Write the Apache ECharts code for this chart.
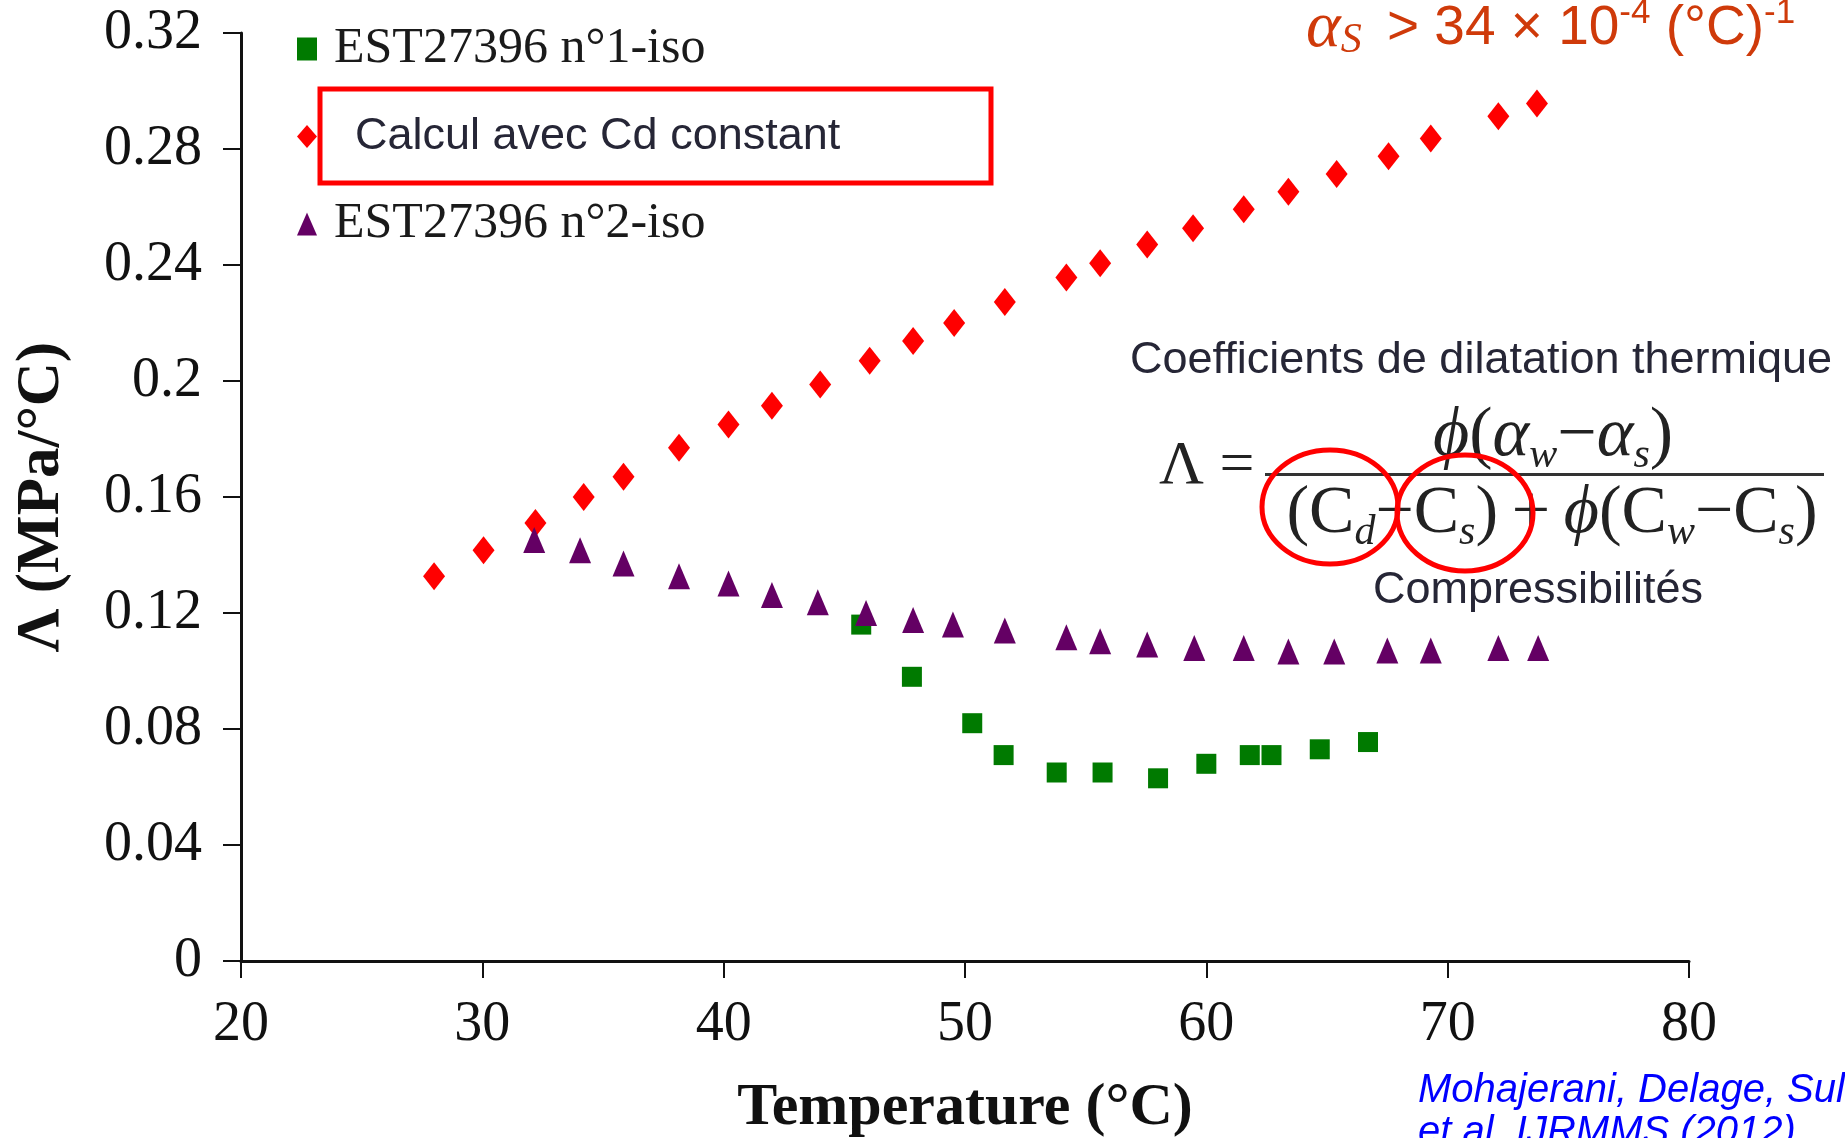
<!DOCTYPE html>
<html lang="fr">
<head>
<meta charset="UTF-8">
<title>Lambda - temperature</title>
<script src="https://cdn.jsdelivr.net/npm/echarts@6/dist/echarts.min.js"></script>
<style>html,body{margin:0;background:#fff;overflow:hidden}</style>
</head>
<body>
<div id="chart" style="width:1845px;height:1138px"></div>
<script>
// temperature (°C) et Lambda (MPa/°C)
var iso1T = [45.7, 47.8, 50.3, 51.6, 53.8, 55.7, 58.0, 60.0, 61.8, 62.7, 64.7, 66.7];
var iso1L = [0.116, 0.098, 0.082, 0.071, 0.065, 0.065, 0.063, 0.068, 0.071, 0.071, 0.073, 0.0755];

var calcT = [28.0, 30.05, 32.2, 34.2, 35.85, 38.15, 40.2, 42.0, 44.0, 46.05, 47.85, 49.55,
             51.65, 54.2, 55.6, 57.55, 59.45, 61.55, 63.4, 65.4, 67.55, 69.3, 72.1, 73.7];
var calcL = [0.1327, 0.1416, 0.151, 0.160, 0.167, 0.177, 0.185, 0.1915, 0.1988, 0.207, 0.2138, 0.220,
             0.2272, 0.2357, 0.2406, 0.2471, 0.2527, 0.2592, 0.2653, 0.2714, 0.2775, 0.2836, 0.2913, 0.2957];

var iso2T = [32.15, 34.05, 35.85, 38.15, 40.2, 42.0, 43.9, 45.9, 47.85, 49.5, 51.65,
             54.2, 55.6, 57.55, 59.5, 61.55, 63.4, 65.3, 67.5, 69.3, 72.1, 73.75];
var iso2L = [0.1452, 0.1416, 0.1371, 0.1327, 0.1302, 0.1262, 0.1237, 0.120, 0.1176, 0.116, 0.114,
             0.1116, 0.1103, 0.1091, 0.1079, 0.1079, 0.1067, 0.1067, 0.1071, 0.1071, 0.1079, 0.1079];

var seriesNames = ['EST27396 n°1-iso', 'Calcul avec Cd constant', 'EST27396 n°2-iso'];
var xTicks = {min: 20, max: 80, interval: 10};
var yTicks = {min: 0, max: 0.32, interval: 0.04};

function pairs(xs, ys) {
    return xs.map(function (x, i) { return [x, ys[i]]; });
}

var serif = '"Liberation Serif", "Times New Roman", serif';
var sans = '"Liberation Sans", Arial, sans-serif';
var orange = '#cf3a0a';
var ink = '#262636';

var chart = echarts.init(document.getElementById('chart'));

chart.setOption({
    backgroundColor: '#fff',
    animation: false,
    grid: {left: 241, right: 156, top: 33, bottom: 177, outerBoundsMode: 'none'},
    legend: {
        orient: 'vertical',
        left: 292,
        top: 19,
        itemWidth: 20,
        itemHeight: 23,
        itemGap: 40,
        data: seriesNames,
        formatter: function (name) {
            return name === seriesNames[1] ? '{b|' + name + '}' : '{a|' + name + '}';
        },
        textStyle: {
            rich: {
                a: {fontFamily: serif, fontSize: 50, color: '#1a1a1a', lineHeight: 46, padding: [0, 0, 0, 12]},
                b: {fontFamily: sans, fontSize: 45, color: ink, lineHeight: 46, padding: [0, 0, 0, 33]}
            }
        }
    },
    xAxis: {
        type: 'value',
        min: xTicks.min, max: xTicks.max, interval: xTicks.interval,
        name: 'Temperature (°C)',
        nameLocation: 'middle',
        nameGap: 117,
        nameTextStyle: {fontFamily: serif, fontSize: 60, fontWeight: 'bold', color: '#111'},
        axisLine: {onZero: false, lineStyle: {color: '#111', width: 3}},
        axisTick: {length: 17, lineStyle: {color: '#111', width: 2}},
        axisLabel: {margin: 36, fontFamily: serif, fontSize: 56, color: '#111'},
        splitLine: {show: false}
    },
    yAxis: {
        type: 'value',
        min: yTicks.min, max: yTicks.max, interval: yTicks.interval,
        name: 'Λ (MPa/°C)',
        nameLocation: 'middle',
        nameGap: 168,
        nameTextStyle: {fontFamily: serif, fontSize: 61, fontWeight: 'bold', color: '#111'},
        axisLine: {onZero: false, lineStyle: {color: '#111', width: 3}},
        axisTick: {length: 18, lineStyle: {color: '#111', width: 2}},
        axisLabel: {margin: 39, fontFamily: serif, fontSize: 56, color: '#111'},
        splitLine: {show: false}
    },
    series: [
        {
            name: seriesNames[0], type: 'scatter', symbol: 'rect', symbolSize: 20,
            itemStyle: {color: '#007a00', opacity: 1},
            data: pairs(iso1T, iso1L)
        },
        {
            name: seriesNames[1], type: 'scatter', symbol: 'diamond', symbolSize: [22, 28],
            itemStyle: {color: '#ff0000', opacity: 1},
            data: pairs(calcT, calcL)
        },
        {
            name: seriesNames[2], type: 'scatter', symbol: 'triangle', symbolSize: [22, 26],
            itemStyle: {color: '#640064', opacity: 1},
            data: pairs(iso2T, iso2L)
        }
    ],
    graphic: [
        // cadre rouge autour de la legende du calcul
        {type: 'rect', shape: {x: 320, y: 89, width: 671, height: 94},
         style: {fill: null, stroke: '#ff0000', lineWidth: 5}},
        // alpha_s
        {type: 'text', left: 1306, top: -4, style: {
            text: '{a|α}{s|S}{t| > 34 × 10}{p|-4}{t| (°C)}{p|-1}',
            rich: {
                a: {fontFamily: serif, fontStyle: 'italic', fontSize: 66, fill: orange, lineHeight: 66},
                s: {fontFamily: serif, fontStyle: 'italic', fontSize: 42, fill: orange, lineHeight: 38, verticalAlign: 'bottom', padding: [0, 10, 0, 0]},
                t: {fontFamily: sans, fontSize: 55, fill: orange, lineHeight: 66},
                p: {fontFamily: sans, fontSize: 35, fill: orange, lineHeight: 32, verticalAlign: 'top'}
            }
        }},
        {type: 'text', left: 1130, top: 338, style: {
            text: 'Coefficients de dilatation thermique', fontFamily: sans, fontSize: 45, fill: ink
        }},
        // formule
        {type: 'text', left: 1159, top: 436, style: {
            text: 'Λ =', fontFamily: serif, fontSize: 62, fill: '#222'
        }},
        {type: 'rect', shape: {x: 1265, y: 473, width: 559, height: 3}, style: {fill: '#333'}},
        {type: 'text', x: 1553, y: 437, style: {
            text: '{i|ϕ}{m|(}{i|α}{s|w}{m|−}{i|α}{s|s}{m|)}', align: 'center', verticalAlign: 'middle',
            rich: {
                m: {fontFamily: serif, fontSize: 70, fill: '#222', lineHeight: 80},
                i: {fontFamily: serif, fontStyle: 'italic', fontSize: 70, fill: '#222', lineHeight: 80},
                s: {fontFamily: serif, fontStyle: 'italic', fontSize: 42, fill: '#222', lineHeight: 36, verticalAlign: 'bottom'}
            }
        }},
        {type: 'text', x: 1552, y: 514, style: {
            text: '{m|(C}{s|d}{m|−C}{s|s}{m|)\u2009+\u2009}{i|ϕ}{m|(C}{s|w}{m|−C}{s|s}{m|)}', align: 'center', verticalAlign: 'middle',
            rich: {
                m: {fontFamily: serif, fontSize: 68, fill: '#222', lineHeight: 80},
                i: {fontFamily: serif, fontStyle: 'italic', fontSize: 68, fill: '#222', lineHeight: 80},
                s: {fontFamily: serif, fontStyle: 'italic', fontSize: 42, fill: '#222', lineHeight: 36, verticalAlign: 'bottom'}
            }
        }},
        // cercles rouges
        {type: 'ellipse', shape: {cx: 1330, cy: 507, rx: 68, ry: 57},
         style: {fill: null, stroke: '#ff0000', lineWidth: 5}},
        {type: 'ellipse', shape: {cx: 1465, cy: 513, rx: 68, ry: 58},
         style: {fill: null, stroke: '#ff0000', lineWidth: 5}},
        {type: 'text', x: 1538, y: 591, style: {
            text: 'Compressibilités', align: 'center', verticalAlign: 'middle',
            fontFamily: sans, fontSize: 45, fill: ink
        }},
        // reference
        {type: 'text', left: 1418, top: 1070, style: {
            text: 'Mohajerani, Delage, Sulem\net al. IJRMMS (2012)',
            fontFamily: sans, fontStyle: 'italic', fontSize: 40, lineHeight: 42, fill: '#0000ff'
        }}
    ]
});
</script>
</body>
</html>
